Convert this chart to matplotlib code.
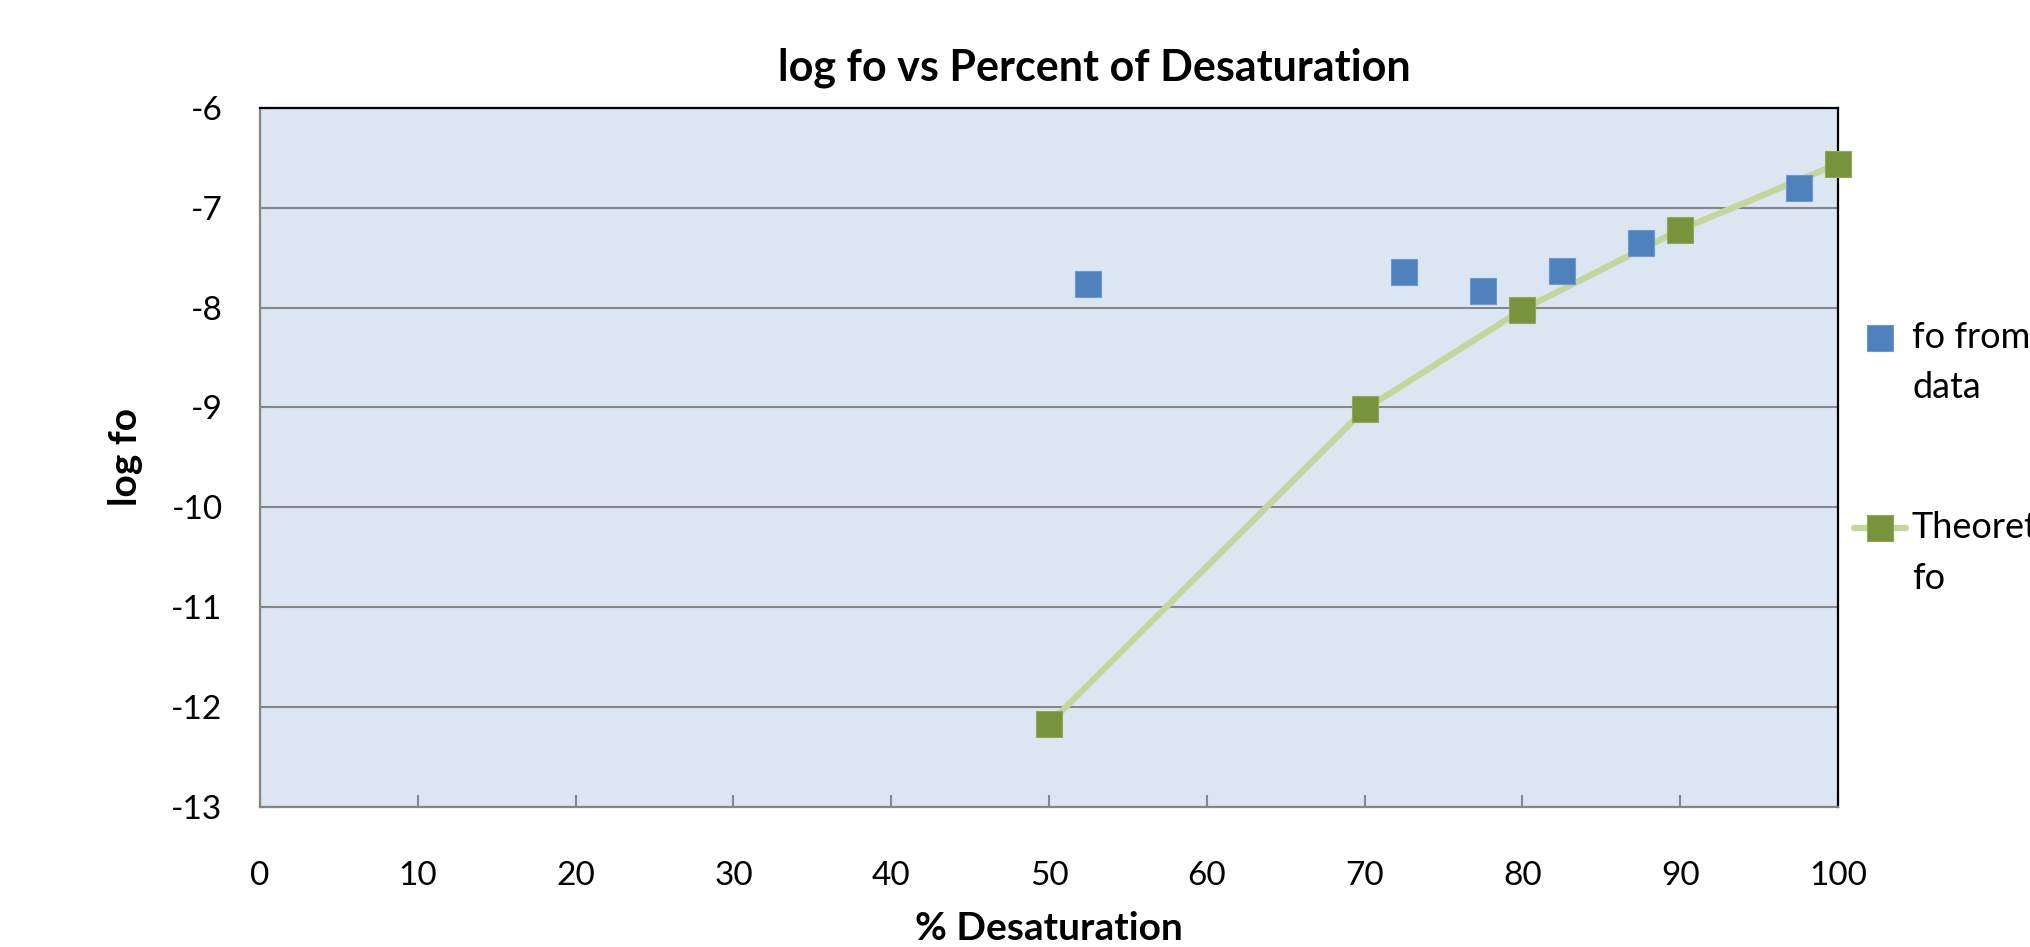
import matplotlib.pyplot as plt
from matplotlib.lines import Line2D

# data
data_x = [52.5, 72.5, 77.5, 82.5, 87.5, 97.5]
data_y = [-7.76, -7.64, -7.83, -7.63, -7.35, -6.80]

theory_x = [50, 70, 80, 90, 100]
theory_y = [-12.17, -9.02, -8.02, -7.22, -6.56]

x_ticks = [0, 10, 20, 30, 40, 50, 60, 70, 80, 90, 100]
y_ticks = [-13, -12, -11, -10, -9, -8, -7, -6]

BLUE = '#4F81BD'
GREEN = '#77933C'
LINE_GREEN = '#C3D69B'
GRID = '#868686'

plt.rcParams['font.family'] = ['Lato', 'DejaVu Sans']

fig = plt.figure(figsize=(20.3, 9.47), dpi=100)
ax = fig.add_axes([0.1281, 0.1482, 0.7773, 0.7378])
ax.set_facecolor('#DCE6F2')

ax.set_xlim(0, 100)
ax.set_ylim(-13, -6)
ax.set_xticks(x_ticks)
ax.set_yticks(y_ticks)
ax.yaxis.grid(True, color=GRID, linewidth=1.5)
ax.set_axisbelow(True)

ax.tick_params(axis='x', direction='in', length=9, width=1.5, color=GRID,
               labelsize=24, pad=39)
ax.tick_params(axis='y', direction='in', length=9, width=1.5, color=GRID,
               labelsize=24, pad=27)
ax.set_yticklabels([str(v) for v in y_ticks])

for side in ['left', 'bottom']:
    ax.spines[side].set_color(GRID)
    ax.spines[side].set_linewidth(1.6)
for side in ['top', 'right']:
    ax.spines[side].set_color('black')
    ax.spines[side].set_linewidth(1.6)

# theoretical curve
ax.plot(theory_x, theory_y, color=LINE_GREEN, linewidth=4.5,
        solid_capstyle='round', solid_joinstyle='round', zorder=3)

ax.plot(data_x, data_y, linestyle='none', marker='s', markersize=19,
        markerfacecolor=BLUE, markeredgecolor='#6B9AD0',
        markeredgewidth=0.8, zorder=4, clip_on=False)
ax.plot(theory_x, theory_y, linestyle='none', marker='s', markersize=19,
        markerfacecolor=GREEN, markeredgecolor='#8FA85A',
        markeredgewidth=0.8, zorder=5, clip_on=False)

fig.text(0.539, 1 - 80 / 947, 'log fo vs Percent of Desaturation',
         ha='center', va='baseline', fontsize=31, fontweight='bold')
ax.set_xlabel('% Desaturation', fontsize=28, fontweight='bold', va='center')
ax.xaxis.set_label_coords(0.5, -0.175)
ax.set_ylabel('log fo', fontsize=28, fontweight='bold', va='center')
ax.yaxis.set_label_coords(-0.085, 0.5)

# legend drawn by hand (labels wrap and run off the figure edge)
W, H = 2030.0, 947.0
fig.add_artist(Line2D([1880 / W], [1 - 338 / H], transform=fig.transFigure,
                      linestyle='none', marker='s', markersize=19,
                      markerfacecolor=BLUE, markeredgecolor='#6B9AD0',
                      markeredgewidth=0.8))
fig.add_artist(Line2D([1854 / W, 1906 / W], [1 - 528 / H, 1 - 528 / H],
                      transform=fig.transFigure, color=LINE_GREEN,
                      linewidth=4.5, solid_capstyle='round'))
fig.add_artist(Line2D([1880 / W], [1 - 528 / H], transform=fig.transFigure,
                      linestyle='none', marker='s', markersize=19,
                      markerfacecolor=GREEN, markeredgecolor='#8FA85A',
                      markeredgewidth=0.8))
fig.text(1912 / W, 1 - 338 / H, 'fo from', fontsize=26, va='center')
fig.text(1912 / W, 1 - 387 / H, 'data', fontsize=26, va='center')
fig.text(1912 / W, 1 - 528 / H, 'Theoretical', fontsize=26, va='center')
fig.text(1912 / W, 1 - 578 / H, 'fo', fontsize=26, va='center')

fig.savefig('out.png', dpi=100)
